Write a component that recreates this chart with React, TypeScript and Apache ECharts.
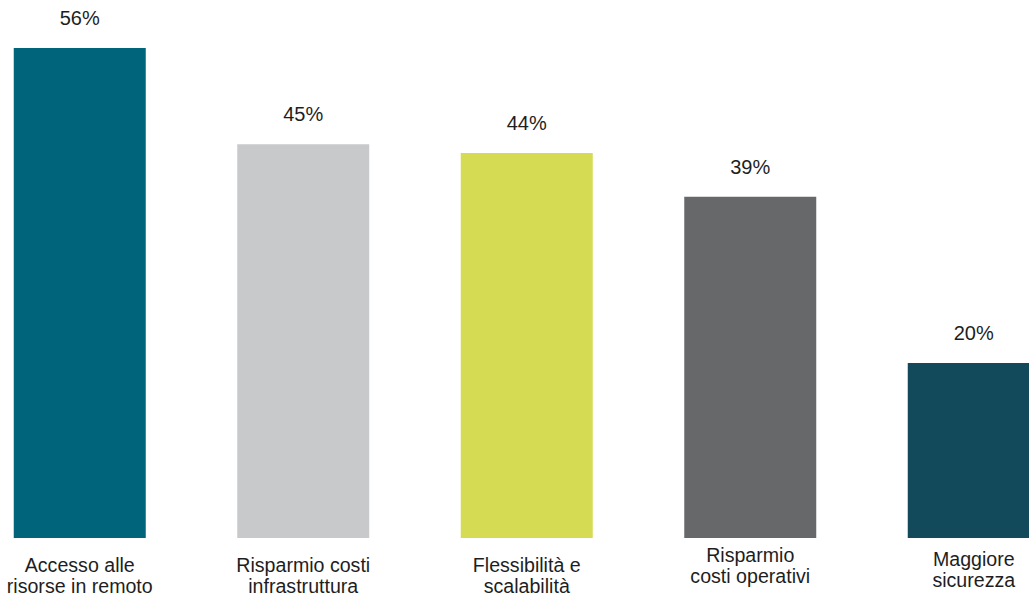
import React, { useEffect, useRef } from "react";
import * as echarts from "echarts";

const categories = [
  "Accesso alle\nrisorse in remoto",
  "Risparmio costi\ninfrastruttura",
  "Flessibilità e\nscalabilità",
  "Risparmio\ncosti operativi",
  "Maggiore\nsicurezza",
];
const values = [56, 45, 44, 39, 20];
const barColors = ["#00647a", "#c8c9cb", "#d5db53", "#67686a", "#124a5b"];
const labelShift = [11, 11, 11, 1, 5];

export default function App() {
  const ref = useRef<HTMLDivElement>(null);
  useEffect(() => {
    if (!ref.current) return;
    const chart = echarts.init(ref.current, null, { renderer: "svg" });
    chart.setOption({
      animation: false,
      grid: { left: 8, width: 1117.5, top: 13, bottom: 52 },
      xAxis: {
        type: "category",
        data: categories.map((c, i) => ({
          value: c,
          textStyle: { padding: [labelShift[i], 0, 0, 0] },
        })),
        axisLine: { show: false },
        axisTick: { show: false },
        axisLabel: {
          interval: 0,
          margin: 5,
          fontSize: 19.6,
          lineHeight: 21,
          color: "#1e1e1e",
          fontFamily: "Liberation Sans, Arial, sans-serif",
        },
      },
      yAxis: {
        type: "value",
        min: 0,
        max: 60,
        show: false,
        splitLine: { show: false },
      },
      series: [
        {
          type: "bar",
          barWidth: 132,
          data: values.map((v, i) => ({ value: v, itemStyle: { color: barColors[i] } })),
          label: {
            show: true,
            position: "top",
            distance: 20,
            formatter: "{c}%",
            fontSize: 20,
            color: "#1e1e1e",
            fontFamily: "Liberation Sans, Arial, sans-serif",
          },
        },
      ],
    });
    return () => chart.dispose();
  }, []);
  return (
    <div
      style={{
        position: "fixed",
        left: 0,
        top: 0,
        width: 1029,
        height: 596,
        overflow: "hidden",
        background: "#fff",
      }}
    >
      <div
        ref={ref}
        style={{ position: "absolute", left: -40, top: 0, width: 1140, height: 596 }}
      />
    </div>
  );
}
